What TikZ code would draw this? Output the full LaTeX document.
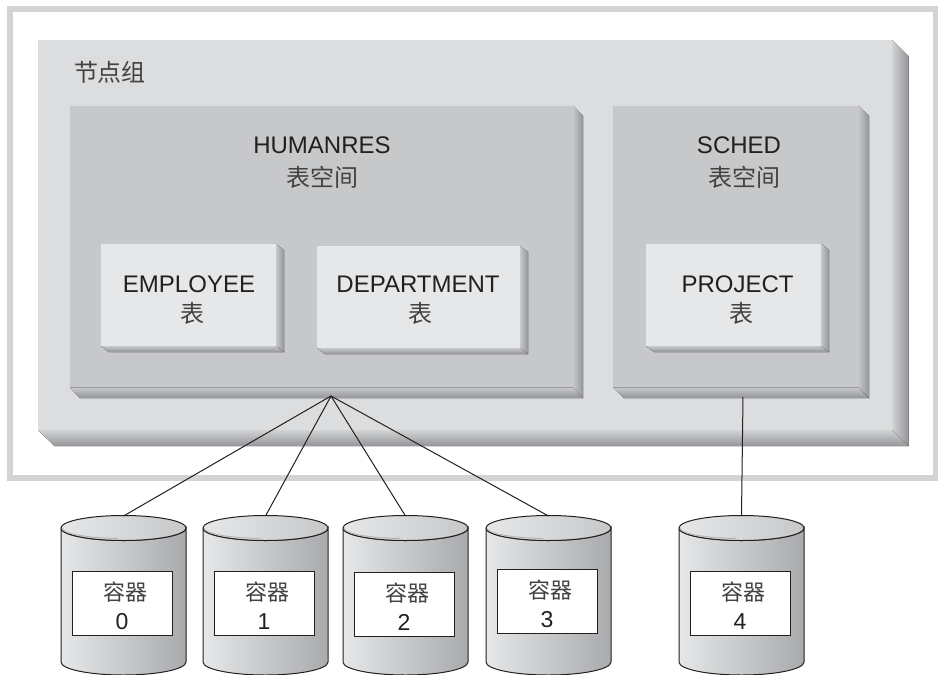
\documentclass[tikz,border=0pt]{standalone}
\usepackage{fontspec}
\setmainfont{Liberation Sans}
\newfontfamily\cjk{Noto Sans CJK SC}
\usetikzlibrary{calc}

\definecolor{framegray}{HTML}{D1D3D4}
\definecolor{groupgray}{HTML}{DCDDDF}
\definecolor{spacegray}{HTML}{C7C8CA}
\definecolor{tablegray}{HTML}{E6E7E8}
\definecolor{bevelgray}{HTML}{939598}
\definecolor{inkgray}{HTML}{231F20}

\tikzset{
    face/.style={fill=#1, inner sep=0, outer sep=0},
    name text/.style={text=inkgray, font=\fontsize{24}{28}\selectfont},
    cjk text/.style={text=inkgray!85, font=\cjk\fontsize{24}{28}\selectfont},
    box/.style={draw=inkgray, fill=white, line width=.8pt, inner sep=0, outer sep=0,
        minimum width=100pt, minimum height=64pt},
    link/.style={inkgray, line width=1pt},
}

% right and bottom edges of a raised face
\newcommand{\bevel}[4]{
    \fill[left color=#4, right color=bevelgray]
        (#1.north east) -- ($(#1.north east)+(#2,#3)$) -- ($(#1.south east)+(#2,#3)$) -- (#1.south east) -- cycle;
    \fill[top color=#4, bottom color=bevelgray]
        (#1.south west) -- ($(#1.south west)+(#2,#3)$) -- ($(#1.south east)+(#2,#3)$) -- (#1.south east) -- cycle;
}

\begin{document}
\begin{tikzpicture}[x=1pt,y=-1pt]
    \useasboundingbox (0,0) rectangle (938,675);

    \node[draw=framegray, line width=6pt, inner sep=0, minimum width=926pt, minimum height=469pt] (frame) at (473,243) {};

    \node[face=groupgray, minimum width=854pt, minimum height=390pt] (group) at (465,235) {};
    \bevel{group}{16.5}{16}{framegray}
    \node[cjk text] (grouptext) at (110,72) {节点组};

    \node[face=spacegray, minimum width=503pt, minimum height=282pt] (humanres) at (321.5,246.5) {};
    \bevel{humanres}{10}{10.5}{spacegray}
    \node[name text] (humanrestext) at (322,145) {HUMANRES};
    \node[cjk text] (humanrestype) at (322,177) {表空间};

    \node[face=spacegray, minimum width=245pt, minimum height=282pt] (sched) at (735.5,246.5) {};
    \bevel{sched}{11}{10.5}{spacegray}
    \node[name text] (schedtext) at (739,145) {SCHED};
    \node[cjk text] (schedtype) at (744,177) {表空间};

    \node[face=tablegray, minimum width=175pt, minimum height=102pt] (employee) at (188.5,295) {};
    \bevel{employee}{8}{6}{spacegray}
    \node[name text] (employeetext) at (189,284) {EMPLOYEE};
    \node[cjk text] (employeetype) at (192,313) {表};

    \node[face=tablegray, minimum width=203pt, minimum height=102pt] (department) at (418.5,297) {};
    \bevel{department}{8}{6}{spacegray}
    \node[name text] (departmenttext) at (418,284) {DEPARTMENT};
    \node[cjk text] (departmenttype) at (420,313) {表};

    \node[face=tablegray, minimum width=175pt, minimum height=102pt] (project) at (733.5,295) {};
    \bevel{project}{8}{6}{spacegray}
    \node[name text] (projecttext) at (737.5,284) {PROJECT};
    \node[cjk text] (projecttype) at (741,313) {表};

    \coordinate (hub) at (331,396);
    \coordinate (schedout) at (743,397);

    \foreach \i/\x/\y in {0/61/571, 1/203/571, 2/343/572, 3/486/569, 4/679/571} {
        \coordinate (top\i) at (\x+62.5,516);
        \draw[link, left color=tablegray, right color=bevelgray!80]
            (\x,528) -- (\x,662) arc[start angle=180, end angle=0, x radius=62.5, y radius=13]
            -- (\x+125,528) arc[start angle=0, end angle=180, x radius=62.5, y radius=12.5];
        \draw[link, left color=tablegray, right color=spacegray]
            (\x+62.5,528) ellipse (62.5 and 12.5);
        \draw[bevelgray!70, line width=1pt]
            (\x+1,528) arc[start angle=180, end angle=95, x radius=61.5, y radius=10.5];
        \node[box] (box\i) at (\x+61,\y+32.5) {};
        \node[cjk text, font=\cjk\fontsize{22}{28}\selectfont] (caption\i) at ($(box\i)+(3,-11)$) {容器};
        \node[name text, font=\fontsize{23}{28}\selectfont] (number\i) at ($(box\i)+(0,18)$) {\i};
    }

    \foreach \i in {0,...,3}
        \draw[link] (hub) -- (top\i);
    \draw[link] (schedout) -- (top4);
\end{tikzpicture}
\end{document}
